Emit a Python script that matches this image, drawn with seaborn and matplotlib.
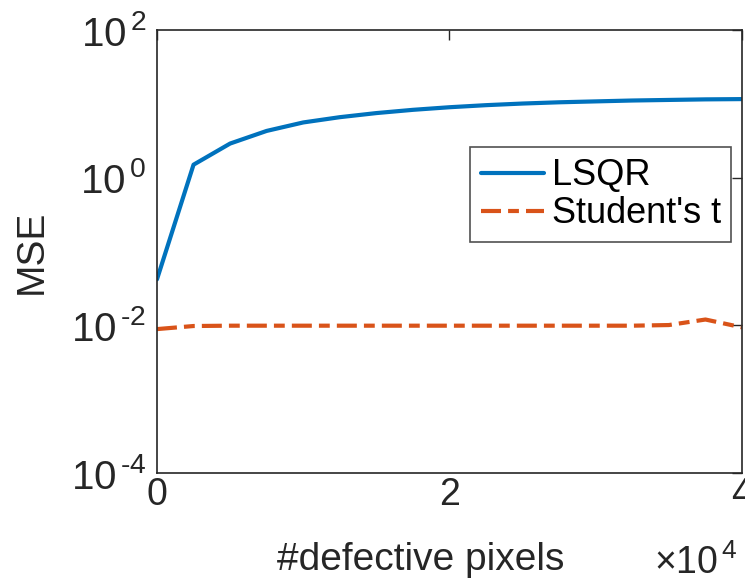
import numpy as np
import pandas as pd
import matplotlib
matplotlib.use("Agg")
import matplotlib.pyplot as plt
import matplotlib.ticker as mticker
import seaborn as sns

# Data
defective_pixels = [0, 2500, 5000, 7500, 10000, 12500, 15000, 17500, 20000,
                    22500, 25000, 27500, 30000, 32500, 35000, 37500, 40000]
mse_lsqr = [0.042, 1.5, 2.9, 4.3, 5.6, 6.6, 7.5, 8.3, 9.0,
            9.6, 10.1, 10.5, 10.8, 11.1, 11.3, 11.5, 11.6]
mse_student_t = [0.0089, 0.0098, 0.0099, 0.0099, 0.0099, 0.0099, 0.0099, 0.0099, 0.0099,
                 0.0099, 0.0099, 0.0099, 0.0099, 0.0099, 0.0101, 0.0120, 0.0094]
series_names = ["LSQR", "Student's t"]
y_ticks = [1e-4, 1e-2, 1e0, 1e2]
y_tick_labels = [r"$\mathdefault{10^{\,\text{-}4}}$", r"$\mathdefault{10^{\,\text{-}2}}$",
                 r"$\mathdefault{10^{\,0}}$", r"$\mathdefault{10^{\,2}}$"]
x_ticks = [0, 20000, 40000]
x_tick_labels = ["0", "2", "4"]
x_multiplier = r"$\times\mathdefault{10^{\,4}}$"

sns.set_style("white")
plt.rcParams['font.family'] = ['Liberation Sans', 'DejaVu Sans']
plt.rcParams['mathtext.fontset'] = 'custom'
plt.rcParams['mathtext.rm'] = 'Liberation Sans'
plt.rcParams['mathtext.it'] = 'Liberation Sans'
plt.rcParams['mathtext.default'] = 'regular'

fig = plt.figure(figsize=(7.45, 5.84), dpi=100)
ax = fig.add_axes([0.2107, 0.190, 0.7853, 0.7586])

blue = "#0072BD"
orange = "#D95319"
edge = "#262626"

sns.lineplot(x=defective_pixels, y=mse_lsqr, ax=ax, color=blue, linewidth=3,
             label=series_names[0])
sns.lineplot(x=defective_pixels, y=mse_student_t, ax=ax, color=orange, linewidth=3,
             linestyle=(0, (4.8, 1.7, 2.6, 1.7)), label=series_names[1])

ax.set_yscale("log")
ax.set_ylim(1e-4, 1e2)
ax.set_xlim(0, 40000)
ax.set_yticks(y_ticks)
ax.set_yticklabels(y_tick_labels)
ax.yaxis.set_minor_locator(mticker.NullLocator())
ax.set_xticks(x_ticks)
ax.set_xticklabels(x_tick_labels)

for s in ax.spines.values():
    s.set_visible(True)
    s.set_color(edge)
    s.set_linewidth(1.2)

ax.tick_params(axis='both', which='major', direction='in', length=7, width=1,
               color=edge, labelcolor="#262626", top=True, right=True)
ax.tick_params(axis='x', pad=3, labelsize=27)
ax.tick_params(axis='y', pad=8, labelsize=29)

ax.set_xlabel("#defective pixels", fontsize=28, color="#262626")
ax.xaxis.set_label_coords(0.451, -0.155)
ax.set_ylabel("MSE", fontsize=28, color="#262626")
ax.yaxis.set_label_coords(-0.183, 0.5)

fig.text(696, 584 - 574, x_multiplier, fontsize=27, color="#262626",
         ha="center", va="baseline", transform=None)

leg = ax.legend(loc='upper right', bbox_to_anchor=(0.982, 0.735), fontsize=26,
                frameon=True, fancybox=False, handlelength=1.75, handletextpad=0.2,
                borderpad=0.3, labelspacing=0.08, borderaxespad=0.0)
leg.get_frame().set_edgecolor(edge)
leg.get_frame().set_linewidth(1.2)
for t in leg.get_texts():
    t.set_color("black")

fig.savefig("out.png", dpi=100)
